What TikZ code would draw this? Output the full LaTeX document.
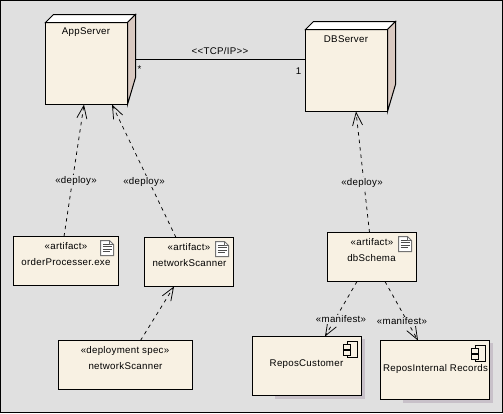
\documentclass[tikz,border=0pt]{standalone}
\usepackage{fontspec}
\setmainfont{Liberation Sans}[LetterSpace=3]
\usetikzlibrary{arrows.meta,calc}
\definecolor{bgc}{HTML}{E0E0E0}
\definecolor{boxc}{HTML}{F8F1E3}
\definecolor{sidec}{HTML}{D9C9C1}
\definecolor{shadc}{HTML}{C8C1C9}
\tikzset{
  x=1pt,y=-1pt,
  boxn/.style={draw=black,line width=1pt,fill=boxc,anchor=north west,inner sep=0pt,outer sep=0pt},
  txt/.style={font=\fontsize{9.7}{11}\selectfont,inner sep=0.5pt,text=black,yshift=-0.5pt},
  lbl/.style={txt,fill=bgc,inner sep=1pt},
  dep/.style={draw=black,line width=0.75pt,dash pattern=on 3.5pt off 4pt,-{Straight Barb[length=13pt,width=10pt,line width=0.75pt]}},
  docicon/.pic={
    \fill[white,draw=black!55,line width=1pt] (0,0)--(9,0)--(13,4)--(13,15)--(0,15)--cycle;
    \draw[black!60,line width=0.8pt] (9,0)--(9,4)--(13,4);
    \draw[black!70,line width=0.8pt] (2,3.5)--(8,3.5) (2,6)--(11,6) (2,8.5)--(11,8.5) (2,11)--(9,11);
  },
  compicon/.pic={
    \draw[black,line width=1pt,fill=boxc] (3.5,0) rectangle (13.5,16);
    \draw[black,line width=1pt,fill=boxc] (0,3) rectangle (7,7.5);
    \draw[black,line width=1pt,fill=boxc] (0,9) rectangle (7,13.5);
  },
}
\begin{document}
\begin{tikzpicture}
\useasboundingbox (0,0) rectangle (503,413);
\draw[black,line width=1pt,fill=bgc] (0.5,0.5) rectangle (502.5,412.5);

% shadows
\fill[shadc] (275,339) rectangle (365,399);
\fill[shadc] (403,343) rectangle (493,403);

% nodes
\node[boxn,minimum width=82pt,minimum height=82pt] (app) at (45.5,22.5) {};
\node[boxn,minimum width=82pt,minimum height=82pt] (db) at (305.5,29.5) {};
\node[boxn,minimum width=105pt,minimum height=49pt] (order) at (13.5,236.5) {};
\node[boxn,minimum width=89pt,minimum height=49pt] (scan) at (144.5,237.5) {};
\node[boxn,minimum width=134pt,minimum height=49pt] (spec) at (58.5,340.5) {};
\node[boxn,minimum width=89pt,minimum height=49pt] (schema) at (327.5,232.5) {};
\node[boxn,minimum width=109pt,minimum height=59pt] (cust) at (252.5,336.5) {};
\node[boxn,minimum width=109pt,minimum height=59pt] (recs) at (380.5,340.5) {};

% 3-D faces
\foreach \n in {app,db}{
  \draw[black,line width=1pt,fill=white,line join=miter]
    (\n.north west) -- ++(8,-8) -- ++(82,0) -- (\n.north east) -- cycle;
  \draw[black,line width=1pt,fill=sidec,line join=miter]
    (\n.north east) -- ++(8,-8) -- ++(0,63) -- (\n.south east) -- cycle;
}

% connectors
\draw[black,line width=1pt] ([xshift=8pt,yshift=4.5pt]app.east) -- ([yshift=11.5pt]db.west);
\draw[dep] ([xshift=-2pt]order.north) -- ([xshift=-2.5pt]app.south);
\draw[dep] ([xshift=-13pt]scan.north) -- ([xshift=25.5pt]app.south);
\draw[dep] ([xshift=-2.5pt]schema.north) -- ([xshift=9.5pt]db.south);
\draw[dep] ([xshift=15pt]spec.north) -- ([xshift=-15pt]scan.south);
\draw[dep] ([xshift=-15pt]schema.south) -- ([xshift=18pt]cust.north);
\draw[dep] ([xshift=13pt]schema.south) -- ([xshift=-17pt]recs.north);

% connector labels
\node[txt] (tcp) at (220,51) {<{}<TCP/IP>{}>};
\node[txt] (mstar) at (139.5,68.5) {*};
\node[txt] (mone) at (298.5,70.5) {1};
\node[lbl] (d1) at (76,180) {«deploy»};
\node[lbl] (d2) at (144,181) {«deploy»};
\node[lbl] (d3) at (362,182) {«deploy»};
\node[lbl] (m1) at (341,319) {«manifest»};
\node[lbl] (m2) at (402,321) {«manifest»};

% node texts
\node[txt] (t1) at (86,32) {AppServer};
\node[txt] (t2) at (346,39) {DBServer};
\node[txt] (t3) at (66,246) {«artifact»};
\node[txt] (t4) at (66,262) {orderProcesser.exe};
\node[txt] (t5) at (189,247) {«artifact»};
\node[txt] (t6) at (189.5,263) {networkScanner};
\node[txt] (t7) at (125,350) {«deployment spec»};
\node[txt] (t8) at (125.5,366) {networkScanner};
\node[txt] (t9) at (372,242) {«artifact»};
\node[txt] (t10) at (371.5,258) {dbSchema};
\node[txt] (t11) at (306.5,364) {ReposCustomer};
\node[txt] (t12) at (435.5,368) {ReposInternal Records};

% icons
\pic at (100.5,240.5) {docicon};
\pic at (215.5,241.5) {docicon};
\pic at (398.5,236.5) {docicon};
\pic at (343.5,341.5) {compicon};
\pic at (471.5,345.5) {compicon};
\end{tikzpicture}
\end{document}
